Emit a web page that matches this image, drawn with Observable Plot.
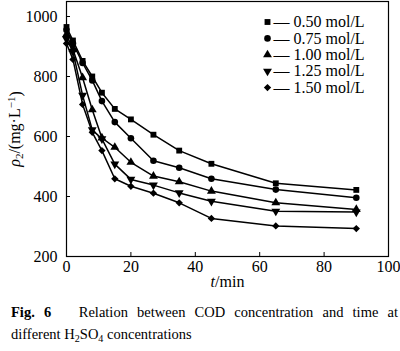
<!DOCTYPE html>
<html>
<head>
<meta charset="utf-8">
<script src="https://cdn.jsdelivr.net/npm/d3@7"></script>
<script src="https://cdn.jsdelivr.net/npm/@observablehq/plot@0.6"></script>
<style>
  html, body { margin: 0; padding: 0; background: #fff; }
  #chart { width: 400px; height: 300px; }
  #chart svg { font-family: "Liberation Serif", "Times New Roman", serif !important; font-size: 16px; }
  #chart svg text { font-family: "Liberation Serif", "Times New Roman", serif !important; font-size: 16px; fill: #000; }
  .cap { font-family: "Liberation Serif", "Times New Roman", serif; font-size: 14.5px; color: #000; padding-left: 11px; width: 387px; box-sizing: content-box; }
  .cap1 { text-align: justify; text-align-last: justify; height: 22px; line-height: 22px; margin-top: 1px; }
  .cap2 { height: 22px; line-height: 22px; }
  .cap sub { font-size: 0.7em; vertical-align: -0.25em; line-height: 0; }
</style>
</head>
<body>
<div id="chart"></div>
<div class="cap cap1"><b>Fig.&nbsp;6</b>&nbsp;&nbsp; Relation between COD concentration and time at</div>
<div class="cap cap2">different H<sub>2</sub>SO<sub>4</sub> concentrations</div>
<script>
// ---- data ----
const times = [0, 2, 5, 8, 11, 15, 20, 27, 35, 45, 65, 90];
const seriesNames = ["0.50 mol/L", "0.75 mol/L", "1.00 mol/L", "1.25 mol/L", "1.50 mol/L"];
const c050 = [965, 920, 852, 800, 746, 692, 657, 606, 553, 509, 444, 422];
const c075 = [955, 910, 845, 787, 718, 648, 594, 519, 496, 459, 423, 396];
const c100 = [940, 890, 796, 689, 595, 564, 514, 468, 449, 418, 379, 357];
const c125 = [925, 883, 737, 622, 592, 508, 457, 438, 412, 384, 351, 348];
const c150 = [910, 857, 707, 614, 553, 459, 434, 411, 379, 327, 302, 293];
const xTicks = [0, 20, 40, 60, 80, 100];
const yTicks = [200, 400, 600, 800, 1000];

const allSeries = [c050, c075, c100, c125, c150];
const data = [];
allSeries.forEach((vals, si) => {
  vals.forEach((v, i) => data.push({series: seriesNames[si], t: times[i], v}));
});

// downward triangle symbol
const triangleDown = {
  draw(context, size) {
    const y = -Math.sqrt(size / (Math.sqrt(3) * 3));
    context.moveTo(0, -2 * y);
    context.lineTo(-Math.sqrt(3) * y, y);
    context.lineTo(Math.sqrt(3) * y, y);
    context.closePath();
  }
};
const symbolRange = ["square", "circle", "triangle", triangleDown, "diamond2"];

const legendMarks = seriesNames.flatMap((name, i) => [
  Plot.dot([name], {frameAnchor: "top-right", dx: -121, dy: 20.5 + 16.4 * i, symbol: () => name, fill: "black", r: 3.3}),
  Plot.text([name], {frameAnchor: "top-right", dx: -115, dy: 20.5 + 16.4 * i, text: d => "\u2014 " + d, textAnchor: "start", lineAnchor: "middle", fontSize: 16, fill: "black"})
]);

const plot = Plot.plot({
  width: 400,
  height: 300,
  marginLeft: 66,
  marginRight: 12,
  marginTop: 1,
  marginBottom: 44,
  style: {fontFamily: "Liberation Serif", fontSize: "16px", color: "black", background: "white"},
  x: {domain: [0, 100]},
  y: {domain: [200, 1050]},
  symbol: {domain: seriesNames, range: symbolRange},
  marks: [
    Plot.axisX({ticks: xTicks, tickFormat: d3.format("d"), tickSize: -4, tickPadding: 8, label: "t/min", labelAnchor: "center", labelArrow: "none", labelOffset: 30, fontSize: 16}),
    Plot.axisY({ticks: yTicks, tickFormat: d3.format("d"), tickSize: -4, tickPadding: 13, label: "ρ2/(mg·L−1)", labelAnchor: "center", labelArrow: "none", labelOffset: 58, fontSize: 16}),
    Plot.frame({stroke: "black", strokeWidth: 1.2}),
    Plot.line(data, {x: "t", y: "v", z: "series", stroke: "black", strokeWidth: 1.5}),
    Plot.dot(data, {x: "t", y: "v", symbol: "series", fill: "black", r: 3.3}),
    ...legendMarks
  ]
});

document.getElementById("chart").appendChild(plot);

// rich formatting of axis labels
const svg = d3.select(plot);
svg.selectAll('g[aria-label="x-axis label"] text').each(function() {
  const t = d3.select(this);
  t.text(null);
  t.append("tspan").attr("font-style", "italic").text("t");
  t.append("tspan").text("/min");
});
svg.selectAll('g[aria-label="y-axis label"] text').each(function() {
  const t = d3.select(this);
  t.text(null);
  t.append("tspan").attr("font-style", "italic").text("ρ");
  t.append("tspan").attr("font-size", "11px").attr("dy", "0.3em").text("2");
  t.append("tspan").attr("dy", "-0.2em").text("/(mg·L");
  t.append("tspan").attr("font-size", "11px").attr("dy", "-0.45em").text("−1");
  t.append("tspan").attr("dy", "0.35em").text(")");
});
</script>
</body>
</html>
